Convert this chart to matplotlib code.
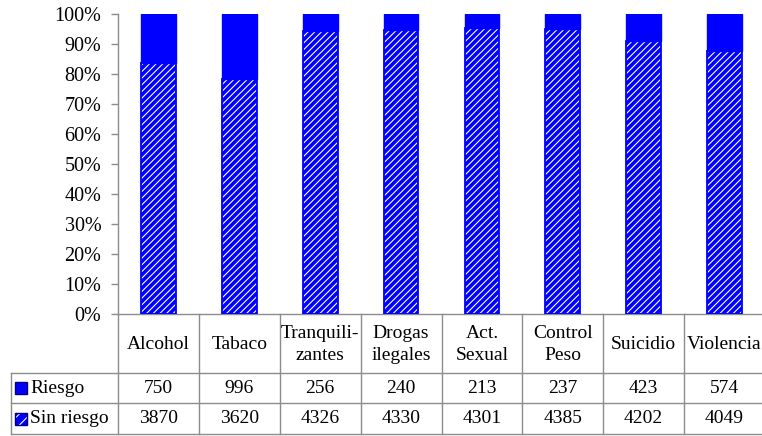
import matplotlib
matplotlib.use("Agg")
import matplotlib.pyplot as plt
from matplotlib.lines import Line2D
from matplotlib.patches import Rectangle
import matplotlib.transforms as mtransforms

# Data
categories = ["Alcohol", "Tabaco", "Tranquili-\nzantes", "Drogas\nilegales",
              "Act.\nSexual", "Control\nPeso", "Suicidio", "Violencia"]
riesgo = [750, 996, 256, 240, 213, 237, 423, 574]
sin_riesgo = [3870, 3620, 4326, 4330, 4301, 4385, 4202, 4049]
series_names = ["Riesgo", "Sin riesgo"]
yticks = [0, 10, 20, 30, 40, 50, 60, 70, 80, 90, 100]

plt.rcParams["font.family"] = ["Liberation Serif", "DejaVu Serif"]
plt.rcParams["hatch.linewidth"] = 0.8

W, H = 762, 436
fig = plt.figure(figsize=(W / 100, H / 100), dpi=100)
fig.patch.set_facecolor("white")

BLUE = "#0000ff"
GRID = "#8c8c8c"
FS = 14

# plot area in pixel units
ax_left, ax_right, ax_top, ax_bot = 118, 765, 14, 314
ax = fig.add_axes([ax_left / W, 1 - ax_bot / H,
                   (ax_right - ax_left) / W, (ax_bot - ax_top) / H])

n = len(categories)
x = list(range(n))
totals = [r + s for r, s in zip(riesgo, sin_riesgo)]
pct_sin = [s / t * 100 for s, t in zip(sin_riesgo, totals)]
pct_r = [r / t * 100 for r, t in zip(riesgo, totals)]

bw = 0.43
# hatched lower segment: blue with white diagonal stripes
ax.bar(x, pct_sin, width=bw, color=BLUE, edgecolor="white", hatch="/////",
       linewidth=0, zorder=2)
ax.bar(x, pct_sin, width=bw, fill=False, edgecolor=BLUE, linewidth=1.3, zorder=3)
# solid upper segment
ax.bar(x, pct_r, bottom=pct_sin, width=bw, color=BLUE, edgecolor=BLUE,
       linewidth=1.0, zorder=2)

ax.set_xlim(-0.5, n - 0.5)
ax.set_ylim(0, 100)
ax.set_yticks(yticks)
ax.set_yticklabels([f"{v}%" for v in yticks], fontsize=14.5)
ax.set_xticks([])
ax.tick_params(axis="y", direction="out", length=5, width=1, color=GRID, pad=7)
for side in ("top", "right"):
    ax.spines[side].set_visible(False)
for side in ("left", "bottom"):
    ax.spines[side].set_color(GRID)
    ax.spines[side].set_linewidth(1.0)

# Data table below the axis
def fy(py):
    return 1 - py / H

def fx(px):
    return px / W

trans = mtransforms.blended_transform_factory(ax.transData, fig.transFigure)

row_top, row1, row2, row3 = 314, 373, 403, 434
label_left = 11

# vertical column lines
for i in range(n + 1):
    fig.add_artist(Line2D([i - 0.5, i - 0.5], [fy(row_top), fy(row3)],
                          transform=trans, color=GRID, lw=1.0, clip_on=False))
# horizontal row lines
for ry in (row1, row2, row3):
    fig.add_artist(Line2D([fx(label_left), fx(ax_right)], [fy(ry), fy(ry)],
                          transform=fig.transFigure, color=GRID, lw=1.0))
fig.add_artist(Line2D([fx(label_left), fx(label_left)], [fy(row1), fy(row3)],
                      transform=fig.transFigure, color=GRID, lw=1.0))

# header labels
for i, cat in enumerate(categories):
    fig.text(i, fy((row_top + row1) / 2 + 1), cat, transform=trans,
             ha="center", va="center", fontsize=FS, linespacing=1.4)

# value rows
for vals, r_top, r_bot in ((riesgo, row1, row2), (sin_riesgo, row2, row3)):
    yc = fy((r_top + r_bot) / 2)
    for i, v in enumerate(vals):
        fig.text(i, yc, str(v), transform=trans, ha="center", va="center",
                 fontsize=FS)

# row labels with legend keys
key = 12
for name, r_top, r_bot, hatched in ((series_names[0], row1, row2, False),
                                    (series_names[1], row2, row3, True)):
    yc = (r_top + r_bot) / 2
    if hatched:
        fig.add_artist(Rectangle((fx(15), fy(yc + key / 2)), key / W, key / H,
                                 transform=fig.transFigure, facecolor=BLUE,
                                 edgecolor="white", hatch="///", lw=0))
        fig.add_artist(Rectangle((fx(15), fy(yc + key / 2)), key / W, key / H,
                                 transform=fig.transFigure, fill=False,
                                 edgecolor="#000080", lw=1.0))
    else:
        fig.add_artist(Rectangle((fx(15), fy(yc + key / 2)), key / W, key / H,
                                 transform=fig.transFigure, facecolor=BLUE,
                                 edgecolor="#000080", lw=1.0))
    fig.text(fx(30), fy(yc), name, ha="left", va="center", fontsize=FS)

fig.savefig("out.png", dpi=100, facecolor="white")
